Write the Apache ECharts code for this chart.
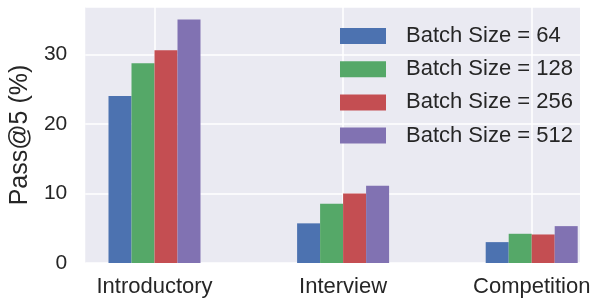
<!DOCTYPE html>
<html>
<head>
<meta charset="utf-8">
<script src="https://cdn.jsdelivr.net/npm/echarts@6/dist/echarts.min.js"></script>
<style>
html, body { margin: 0; padding: 0; background: #fff; }
#chart { width: 597px; height: 301px; }
</style>
</head>
<body>
<div id="chart"></div>
<script>
var categories = ['Introductory', 'Interview', 'Competition'];
var seriesNames = ['Batch Size = 64', 'Batch Size = 128', 'Batch Size = 256', 'Batch Size = 512'];
var bs64 = [24.0, 5.7, 3.0];
var bs128 = [28.7, 8.5, 4.2];
var bs256 = [30.6, 10.0, 4.1];
var bs512 = [35.0, 11.1, 5.3];
var colors = ['#4C72B0', '#55A868', '#C44E52', '#8172B2'];

var values = [bs64, bs128, bs256, bs512];
var font = 'Liberation Sans, Arial, sans-serif';
var ink = '#262626';
var yMax = 36.8;

var series = seriesNames.map(function (name, i) {
    return {
        name: name,
        type: 'bar',
        xAxisIndex: 1,
        yAxisIndex: 1,
        data: values[i],
        barWidth: 23,
        barGap: '0%',
        clip: false,
        itemStyle: { color: colors[i] }
    };
});

var option = {
    animation: false,
    color: colors,
    grid: [
        // plot background + y axis
        { left: 85, top: 7, width: 495, bottom: 38, show: true, backgroundColor: '#EAEAF2', borderWidth: 0 },
        // category centres
        { left: 154.5, top: 7, width: 377.2, bottom: 38 }
    ],
    legend: {
        orient: 'vertical',
        left: 340,
        top: 25,
        padding: 0,
        icon: 'rect',
        itemWidth: 46,
        itemHeight: 16,
        itemGap: 11.2,
        textStyle: { fontFamily: font, fontSize: 22, color: ink, padding: [0, 0, 0, 15] },
        data: seriesNames
    },
    xAxis: [
        { gridIndex: 0, type: 'value', min: 0, max: 1, show: false },
        {
            gridIndex: 1,
            type: 'category',
            data: categories,
            boundaryGap: false,
            axisLine: { show: false },
            axisTick: { show: false },
            axisLabel: { fontFamily: font, fontSize: 22, color: ink, margin: 13 },
            splitLine: { show: true, lineStyle: { color: '#fff', width: 1.5 } }
        }
    ],
    yAxis: [
        {
            gridIndex: 0,
            type: 'value',
            min: 0,
            max: yMax,
            interval: 10,
            name: 'Pass@5 (%)',
            nameLocation: 'middle',
            nameGap: 52,
            nameTextStyle: { fontFamily: font, fontSize: 25, color: ink },
            axisLine: { show: false },
            axisTick: { show: false },
            axisLabel: { fontFamily: font, fontSize: 21, color: ink, margin: 18, showMaxLabel: false },
            splitLine: { show: true, lineStyle: { color: '#fff', width: 1.5 } }
        },
        { gridIndex: 1, type: 'value', min: 0, max: yMax, show: false }
    ],
    series: series
};

var myChart = echarts.init(document.getElementById('chart'));
myChart.setOption(option);
</script>
</body>
</html>
